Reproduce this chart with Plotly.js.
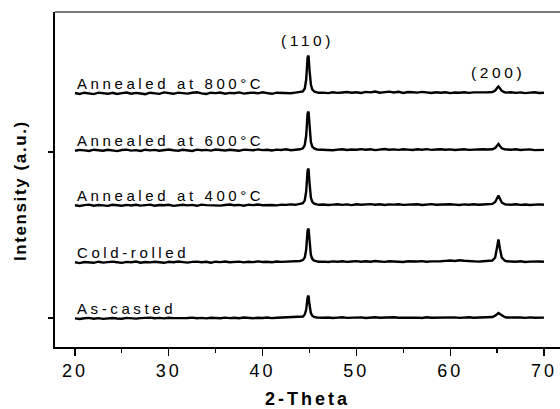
<!DOCTYPE html>
<html>
<head>
<meta charset="utf-8">
<script src="https://cdn.plot.ly/plotly-3.0.1.min.js"></script>
<style>
html,body{margin:0;padding:0;background:#fff;overflow:hidden;}
#chart{width:560px;height:409px;}
.annotation-text{letter-spacing:3.6px;}
.annotation[data-index="0"] .annotation-text{letter-spacing:1.6px;}
.xtick text{letter-spacing:3px;}
.xtitle{letter-spacing:3px;}
</style>
</head>
<body>
<div id="chart"></div>
<script>
// 2-Theta sample positions (degrees)
const twoTheta = [
  20,20.5,21,21.5,22,22.5,23,23.5,
  24,24.5,25,25.5,26,26.5,27,27.5,
  28,28.5,29,29.5,30,30.5,31,31.5,
  32,32.5,33,33.5,34,34.5,35,35.5,
  36,36.5,37,37.5,38,38.5,39,39.5,
  40,40.5,41,41.5,42,42.5,43,43.5,
  44.0,44.3,44.5,44.65,44.8,44.9,45.0,45.15,45.3,45.5,45.8,46.0,
  46.5,47,47.5,48,48.5,49,49.5,50,50.5,
  51,51.5,52,52.5,53,53.5,54,54.5,55,
  55.5,56,56.5,57,57.5,58,58.5,59,59.5,
  60,60.5,61,61.5,62,62.5,63,63.5,64,
  64.5,64.8,65.0,65.15,65.3,65.5,65.8,66.0,
  66.5,67,67.5,68,68.5,69,69.5,70
];

const sampleNames = ["Annealed at 800°C","Annealed at 600°C","Annealed at 400°C","Cold-rolled","As-casted"];

// Intensity (a.u.)
const annealed800 = [
  0.5,-0.4,0.8,0.2,-0.6,0.9,0.1,-0.3,
  0.7,-0.5,0.4,1.0,-0.2,0.6,0.0,-0.7,
  0.8,0.3,-0.4,1.1,0.2,-0.3,0.9,0.5,
  -0.1,0.7,1.2,0.1,-0.5,0.8,0.4,1.0,
  -0.2,0.6,0.3,1.1,-0.1,0.5,0.9,0.2,
  1.2,0.4,-0.3,0.8,0.6,1.0,0.3,0.9,
  1.3,2.0,5.0,14.0,36.0,38.0,24.0,9.0,4.0,2.0,1.2,0.8,
  0.9,0.4,1.2,0.6,1.0,1.5,0.7,1.3,0.5,
  1.6,1.1,2.0,0.8,1.4,1.9,1.0,1.7,0.6,
  1.5,1.2,0.9,1.6,1.1,0.5,1.3,0.8,1.2,
  0.4,1.0,0.7,1.3,0.6,1.1,0.9,1.4,1.2,
  1.5,3.0,5.5,7.0,5.2,2.6,1.2,0.9,
  1.3,0.6,1.1,0.4,0.9,1.2,0.5,0.8
];
const annealed600 = [
  -0.3,0.6,0.1,-0.5,0.8,0.3,-0.2,0.7,
  0.2,-0.6,0.5,0.9,-0.1,0.4,-0.4,0.8,
  0.1,0.6,-0.3,0.5,1.0,0.2,-0.2,0.7,
  0.4,-0.5,0.9,0.3,0.6,-0.1,1.0,0.5,
  0.0,0.8,0.3,-0.3,0.9,0.6,0.2,1.1,
  0.4,0.7,0.0,0.9,0.5,1.2,0.3,0.8,
  1.2,2.2,5.5,15.0,37.0,39.0,25.0,8.5,3.8,2.0,1.0,0.9,
  0.6,1.1,0.3,0.9,1.3,0.5,1.0,0.7,1.4,
  0.8,1.2,0.4,1.0,1.5,0.7,1.1,0.6,1.3,
  0.9,0.5,1.2,0.8,1.4,0.6,1.0,1.3,0.7,
  1.1,0.5,0.9,1.2,0.6,1.0,0.8,1.3,1.0,
  1.2,2.5,4.8,6.5,4.5,2.2,1.3,1.0,
  0.7,1.2,0.5,0.9,1.1,0.4,0.8,0.6
];
const annealed400 = [
  0.2,-0.5,0.4,0.9,-0.2,0.5,0.1,-0.4,
  0.7,0.3,-0.3,0.6,0.0,0.8,-0.1,0.4,
  0.9,-0.2,0.5,0.2,0.7,-0.4,0.3,0.8,
  0.1,0.6,-0.3,0.9,0.4,0.2,0.7,-0.1,
  0.5,1.0,0.3,0.6,-0.2,0.8,0.4,1.0,
  0.2,0.7,0.5,0.1,0.9,0.6,1.1,0.7,
  1.4,2.3,5.2,14.0,35.0,37.0,23.0,8.0,3.6,1.8,1.1,0.7,
  1.0,0.5,0.9,1.2,0.6,1.1,0.4,1.3,0.8,
  1.0,1.4,0.7,1.2,0.5,1.1,0.9,1.3,0.6,
  1.0,0.8,1.2,0.5,1.1,1.4,0.7,1.0,0.6,
  1.2,0.9,0.5,1.1,0.8,1.3,0.7,1.0,1.2,
  1.6,3.5,7.5,10.0,7.0,3.0,1.4,1.0,
  0.8,1.2,0.6,1.0,0.5,0.9,1.1,0.7
];
const coldRolled = [
  0.3,-0.6,0.5,0.1,-0.3,0.8,-0.1,0.4,
  0.9,0.2,-0.4,0.6,0.3,1.0,-0.2,0.5,
  0.1,0.8,0.4,-0.3,0.7,0.2,1.0,0.5,
  -0.1,0.6,0.9,0.3,0.7,-0.2,0.8,0.4,
  1.0,0.2,0.6,0.9,0.1,0.7,0.4,1.1,
  0.5,0.8,0.2,1.0,0.6,0.9,1.2,0.8,
  1.5,2.4,5.0,13.0,32.0,34.0,21.0,7.5,3.5,1.8,1.2,0.8,
  0.9,0.5,1.1,0.7,1.3,0.6,1.0,1.4,0.8,
  1.2,0.7,1.5,1.0,0.6,1.3,0.9,1.1,0.5,
  1.2,0.8,1.0,1.4,0.7,1.1,0.9,1.3,1.6,
  2.0,1.5,2.2,1.7,1.2,1.4,0.9,1.3,1.6,
  2.0,5.0,18.0,23.0,14.0,5.0,2.0,1.2,
  1.0,0.7,1.2,0.5,0.9,0.6,1.0,0.8
];
const asCasted = [
  0.1,-0.5,0.3,0.6,-0.2,0.4,-0.4,0.2,
  0.5,0.0,-0.3,0.6,0.2,-0.1,0.4,0.7,
  0.9,0.3,0.6,0.1,0.8,0.4,0.2,0.7,
  0.5,0.9,0.3,0.6,0.1,0.8,0.5,0.3,
  0.9,0.4,0.7,0.2,1.0,0.6,0.3,0.8,
  0.5,1.0,0.4,0.7,0.9,0.6,1.0,1.2,
  1.5,2.0,4.0,9.0,21.0,23.0,14.0,5.5,2.8,1.6,1.0,0.8,
  0.7,1.0,0.5,0.9,1.2,0.6,1.0,0.8,1.1,
  0.5,0.9,1.2,0.7,1.0,0.6,1.3,0.8,1.0,
  0.6,1.1,0.9,0.5,1.2,0.8,1.0,0.7,1.3,
  0.9,1.1,0.6,1.0,1.3,0.8,1.1,0.9,1.2,
  1.5,2.8,4.5,5.5,4.5,3.0,1.6,1.0,
  1.2,0.7,1.0,0.6,1.1,0.8,0.5,0.9
];

// vertical stacking offsets for each pattern
const stackOffsets = [253.5, 196.5, 141.5, 84.5, 28.5];

const peakLabels = ["(110)", "(200)"];
const peakPositions = [44.8, 65.05];
const peakLabelY = [306.5, 274.5];

const xTickVals = [20, 30, 40, 50, 60, 70];
const yTickVals = [29, 195];

const series = [annealed800, annealed600, annealed400, coldRolled, asCasted];

const traces = series.map((vals, i) => ({
  type: "scatter",
  mode: "lines",
  x: twoTheta,
  y: vals.map(v => v + stackOffsets[i]),
  name: sampleNames[i],
  line: {color: "#000", width: 2.4},
  showlegend: false,
  hoverinfo: "skip"
}));

const annotations = [
  {
    text: "<b>Intensity (a.u.)</b>",
    xref: "paper", yref: "paper",
    x: -0.067, y: 0.466, xanchor: "center", yanchor: "middle",
    textangle: -90, showarrow: false,
    font: {family: "Liberation Sans, Arial, sans-serif", size: 17, color: "#000"}
  }
];
sampleNames.forEach((name, i) => {
  annotations.push({
    text: name, xref: "x", yref: "y",
    x: 20, y: stackOffsets[i] - 0.5,
    xanchor: "left", yanchor: "bottom", showarrow: false,
    font: {family: "Liberation Sans, Arial, sans-serif", size: 15, color: "#000"}
  });
});
peakLabels.forEach((lab, i) => {
  annotations.push({
    text: lab, xref: "x", yref: "y",
    x: peakPositions[i], y: peakLabelY[i],
    xanchor: "center", yanchor: "middle", showarrow: false,
    font: {family: "Liberation Sans, Arial, sans-serif", size: 15.5, color: "#000"}
  });
});

const layout = {
  width: 560, height: 409,
  margin: {l: 55, r: 0, t: 12, b: 62},
  paper_bgcolor: "#fff", plot_bgcolor: "#fff",
  xaxis: {
    range: [17.87, 71.71],
    tickvals: xTickVals,
    ticks: "outside", ticklen: 7, tickwidth: 1.2, tickcolor: "#000",
    minor: {dtick: 5, tick0: 20, ticks: "outside", ticklen: 4, tickwidth: 1.2, tickcolor: "#000"},
    showline: true, linecolor: "#000", linewidth: 1.6,
    showgrid: false, zeroline: false,
    tickfont: {family: "Liberation Sans, Arial, sans-serif", size: 18, color: "#000"},
    title: {text: "<b>2-Theta</b>", standoff: 15,
            font: {family: "Liberation Sans, Arial, sans-serif", size: 18, color: "#000"}},
    automargin: false
  },
  yaxis: {
    range: [0, 335],
    tickvals: yTickVals,
    showticklabels: false,
    ticks: "outside", ticklen: 5, tickwidth: 1.2, tickcolor: "#000",
    showline: true, linecolor: "#000", linewidth: 1.6,
    showgrid: false, zeroline: false,
    automargin: false
  },
  shapes: [
    {type: "line", xref: "paper", yref: "paper", x0: 0, x1: 1, y0: 1, y1: 1,
     line: {color: "#7a7a7a", width: 2}}
  ],
  annotations: annotations
};

Plotly.newPlot("chart", traces, layout, {staticPlot: true, displayModeBar: false});
</script>
</body>
</html>
